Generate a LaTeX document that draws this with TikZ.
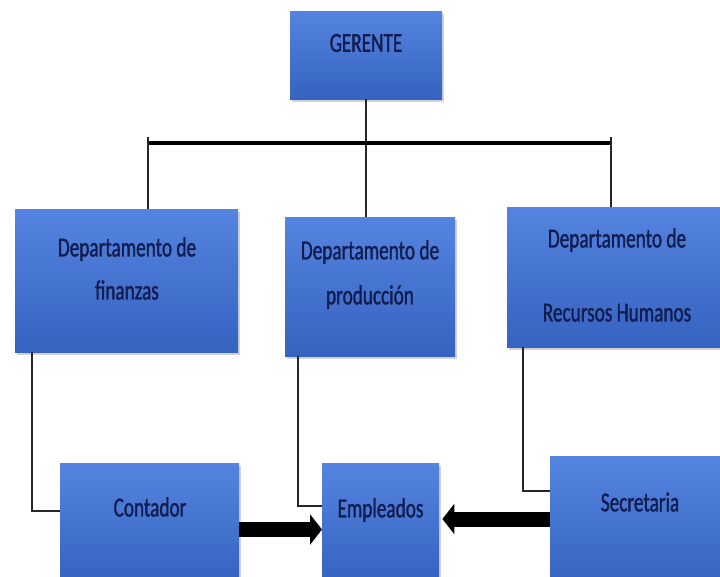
\documentclass[tikz,border=0pt]{standalone}
\usepackage{fontspec}
\newfontfamily\cond[FakeStretch=0.70,FakeBold=1.2]{Carlito}
\usetikzlibrary{shadows,arrows.meta}
\definecolor{boxtop}{RGB}{84,132,224}
\definecolor{boxbot}{RGB}{54,98,192}
\definecolor{txt}{RGB}{18,28,78}
\tikzset{
  box/.style={rectangle, inner sep=0pt, top color=boxtop, bottom color=boxbot,
    drop shadow={opacity=0.35, shadow xshift=2pt, shadow yshift=-3pt}},
  lbl/.style={text=txt, align=center, inner sep=0pt, font=\cond\fontsize{27.5}{#1}\selectfont},
  lbl/.default=30,
  thin/.style={line width=1.6pt, black!85},
  bar/.style={line width=4pt, black},
  fat/.style={line width=15pt, black, -{Triangle[length=12pt,width=30pt]}}
}
\begin{document}
\begin{tikzpicture}[x=1pt,y=-1pt]
\useasboundingbox[fill=white] (0,0) rectangle (720,577);
% boxes
\node[box, minimum width=152pt, minimum height=88pt, anchor=north west] (g) at (290,11) {};
\node[box, minimum width=223pt, minimum height=143pt, anchor=north west] (fin) at (15,209) {};
\node[box, minimum width=170pt, minimum height=139pt, anchor=north west] (prod) at (285,217) {};
\node[box, minimum width=220pt, minimum height=140pt, anchor=north west] (rh) at (507,207) {};
\node[box, minimum width=179pt, minimum height=120pt, anchor=north west] (cont) at (60,463) {};
\node[box, minimum width=117pt, minimum height=120pt, anchor=north west] (emp) at (322,463) {};
\node[box, minimum width=180pt, minimum height=130pt, anchor=north west] (sec) at (550,456) {};
% texts
\node[lbl] (tg) at (366,43) {GERENTE};
\node[lbl=43] (tfin) at (127,268.5) {Departamento de\\finanzas};
\node[lbl=45] (tprod) at (370,274.5) {Departamento de\\producción};
\node[lbl=74] (trh) at (617,275) {Departamento de\\Recursos Humanos};
\node[lbl] (tcont) at (150,507) {Contador};
\node[lbl] (temp) at (380.5,510) {Empleados};
\node[lbl] (tsec) at (640,502) {Secretaria};
% top connectors
\coordinate (bl) at (148,143);
\coordinate (br) at (611,143);
\draw[thin] (g.south) -- (g.south |- prod.north);
\draw[bar] (bl) -- (br);
\draw[thin] ([yshift=6pt]bl) -- (bl |- fin.north);
\draw[thin] ([yshift=6pt]br) -- (br |- rh.north);
% bottom connectors
\coordinate (lc) at (32,511);
\coordinate (mc) at (298,506);
\coordinate (rc) at (523,491);
\draw[thin] (lc |- fin.south) -- (lc) -- (lc -| cont.west);
\draw[thin] (mc |- prod.south) -- (mc) -- (mc -| emp.west);
\draw[thin] (rc |- rh.south) -- (rc) -- (rc -| sec.west);
% thick arrows
\coordinate (a1) at (239,529.5);
\coordinate (a2) at (550,519);
\draw[fat] (a1) -- (a1 -| emp.west);
\draw[fat] (a2) -- ([xshift=3pt]a2 -| emp.east);
\end{tikzpicture}
\end{document}
